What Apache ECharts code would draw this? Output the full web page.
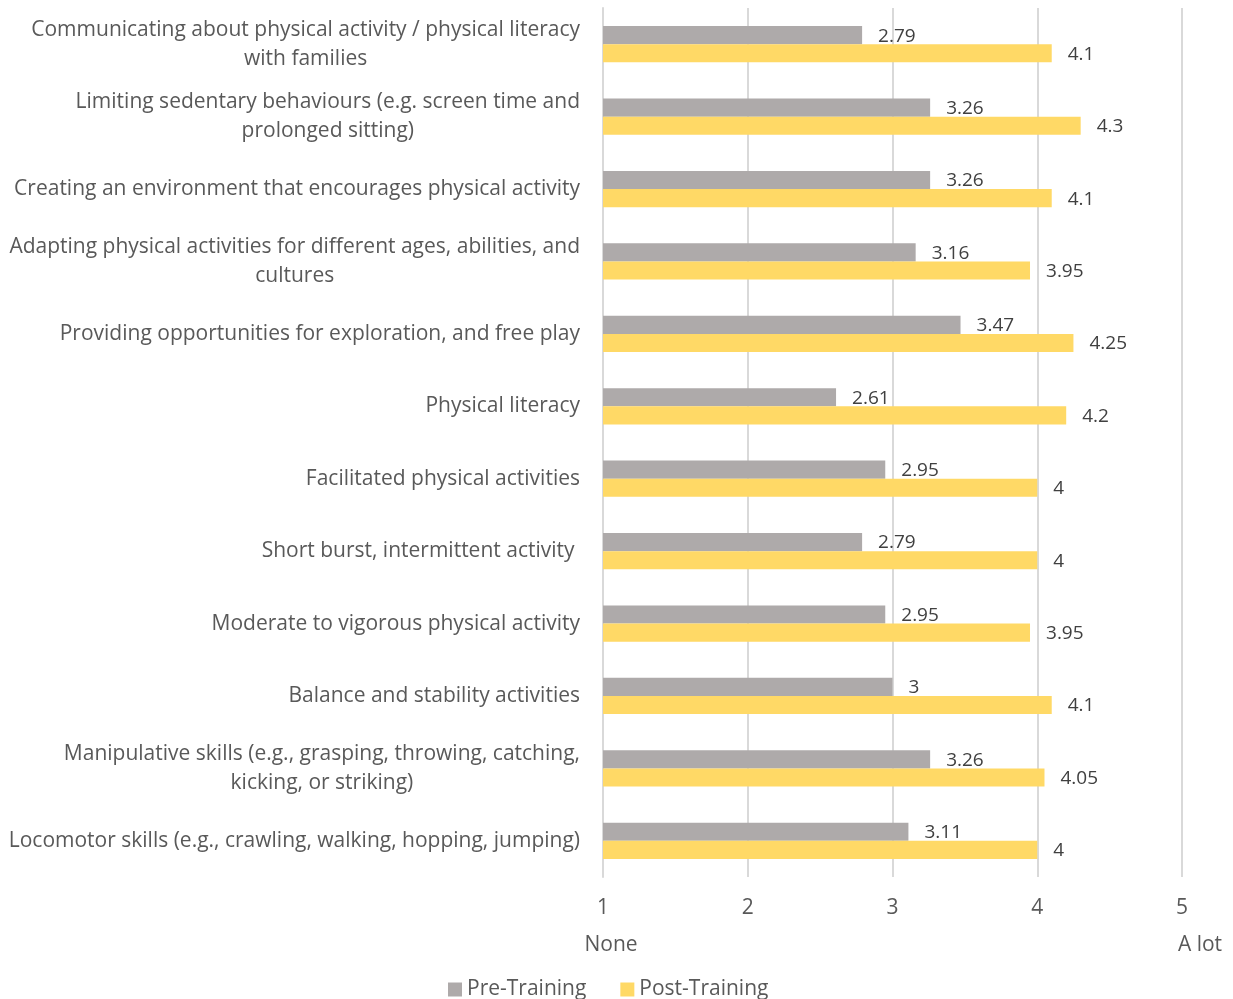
<!DOCTYPE html>
<html>
<head>
<meta charset="utf-8">
<script src="https://cdn.jsdelivr.net/npm/echarts@6/dist/echarts.min.js"></script>
<style>
  html, body { margin: 0; padding: 0; background: #fff; }
  #chart { width: 1233px; height: 999px; }
</style>
</head>
<body>
<div id="chart"></div>
<script>
// Topics, listed top to bottom
const categories = [
  'Communicating about physical activity / physical literacy\nwith families',
  'Limiting sedentary behaviours (e.g. screen time and\nprolonged sitting)',
  'Creating an environment that encourages physical activity',
  'Adapting physical activities for different ages, abilities, and\ncultures',
  'Providing opportunities for exploration, and free play',
  'Physical literacy',
  'Facilitated physical activities',
  'Short burst, intermittent activity ',
  'Moderate to vigorous physical activity',
  'Balance and stability activities',
  'Manipulative skills (e.g., grasping, throwing, catching,\nkicking, or striking)',
  'Locomotor skills (e.g., crawling, walking, hopping, jumping)'
];
const preTraining  = [2.79, 3.26, 3.26, 3.16, 3.47, 2.61, 2.95, 2.79, 2.95, 3, 3.26, 3.11];
const postTraining = [4.1, 4.3, 4.1, 3.95, 4.25, 4.2, 4, 4, 3.95, 4.1, 4.05, 4];
const scaleTicks = [1, 2, 3, 4, 5];
const scaleEnds = { 1: 'None', 5: 'A lot' };

const FONT = '"Open Sans", sans-serif';
const TEXT = '#595959';
const chart = echarts.init(document.getElementById('chart'));

const valueLabel = {
  show: true,
  position: 'right',
  distance: 16,
  offset: [0, 1],
  color: '#404040',
  fontFamily: FONT,
  fontSize: 19
};

chart.setOption({
  animation: false,
  grid: { left: 603, right: 51, top: 8, bottom: 122, containLabel: false },
  legend: {
    bottom: -6,
    left: 443,
    itemWidth: 14,
    itemHeight: 14,
    itemGap: 34,
    icon: 'rect',
    textStyle: { color: TEXT, fontFamily: FONT, fontSize: 21 },
    data: ['Pre-Training', 'Post-Training']
  },
  xAxis: [
    {
      type: 'value',
      min: scaleTicks[0],
      max: scaleTicks[scaleTicks.length - 1],
      interval: 1,
      axisLine: { show: false },
      axisTick: { show: false },
      splitLine: { show: true, lineStyle: { color: '#d9d9d9', width: 2 } },
      axisLabel: { margin: 21, color: TEXT, fontFamily: FONT, fontSize: 21 }
    },
    {
      type: 'value',
      position: 'bottom',
      offset: 37,
      min: scaleTicks[0],
      max: scaleTicks[scaleTicks.length - 1],
      interval: 1,
      axisLine: { show: false },
      axisTick: { show: false },
      splitLine: { show: false },
      axisLabel: {
        margin: 21,
        color: TEXT,
        fontFamily: FONT,
        fontSize: 21,
        formatter: v => v === 1 ? '{a|' + scaleEnds[1] + '}' : (v === 5 ? '{b|' + scaleEnds[5] + '}' : ''),
        rich: {
          a: { padding: [0, 0, 0, 16], color: TEXT, fontFamily: FONT, fontSize: 21 },
          b: { padding: [0, 0, 0, 36], color: TEXT, fontFamily: FONT, fontSize: 21 }
        }
      }
    }
  ],
  yAxis: {
    type: 'category',
    inverse: true,
    data: categories,
    axisLine: { show: true, lineStyle: { color: '#d9d9d9', width: 2 } },
    axisTick: { show: false },
    axisLabel: {
      margin: 23,
      align: 'right',
      // each wrapped line is centred within the label block
      formatter: s => s.split('\n').map(line => '{c|' + line + '}').join('\n'),
      rich: {
        c: { align: 'center', color: TEXT, fontFamily: FONT, fontSize: 21, lineHeight: 29 }
      }
    }
  },
  series: [
    {
      name: 'Pre-Training',
      type: 'bar',
      data: preTraining,
      barCategoryGap: '50%',
      barGap: '0%',
      itemStyle: { color: '#AEAAAA' },
      label: valueLabel
    },
    {
      name: 'Post-Training',
      type: 'bar',
      data: postTraining,
      barCategoryGap: '50%',
      barGap: '0%',
      itemStyle: { color: '#FFD966' },
      label: valueLabel
    }
  ]
});
</script>
</body>
</html>
